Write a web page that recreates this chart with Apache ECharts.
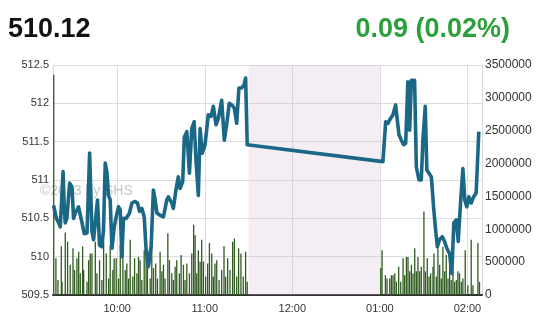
<!DOCTYPE html>
<html>
<head>
<meta charset="utf-8">
<script src="https://cdn.jsdelivr.net/npm/echarts@6/dist/echarts.min.js"></script>
<style>
html,body{margin:0;padding:0;background:#fff;}
#c{width:553px;height:319px;}
</style>
</head>
<body>
<div id="c"></div>
<script>
// Header values
var lastValue = "510.12";
var changeText = "0.09 (0.02%)";

// Axis ticks
var priceTicks = [509.5, 510, 510.5, 511, 511.5, 512, 512.5];
var volumeTicks = [0, 500000, 1000000, 1500000, 2000000, 2500000, 3000000, 3500000];
var hourTicks = [600, 660, 720, 780, 840]; // minutes after midnight
var lunchBreak = [690, 780];

// Price series: time (minutes after midnight) and index value
var priceTime = [556.4,558.3,559.9,561.0,562.2,562.9,563.7,564.4,565.5,567.4,569.0,570.1,571.3,573.5,575.9,577.4,579.3,581.1,582.7,583.8,585.0,586.5,587.9,589.5,590.6,591.8,593.0,594.0,595.2,596.4,598.0,599.3,600.9,602.1,603.2,604.3,606.2,608.4,610.1,612.3,613.9,615.3,616.9,618.5,619.8,621.4,623.3,624.8,626.0,627.2,629.4,631.7,632.8,634.0,635.1,637.4,638.5,640.4,641.9,643.1,644.9,646.0,647.7,649.5,651.1,652.7,654.0,655.6,656.8,658.3,660.2,662.4,664.3,665.9,667.7,669.3,671.6,673.4,675.0,676.8,678.5,680.2,681.9,683.4,685.3,686.9,688.0,689.1,
782.1,784.0,785.6,787.2,789.0,790.8,793.1,794.7,796.3,797.7,799.2,800.4,801.6,802.7,803.8,805.0,806.8,808.4,809.5,811.1,812.2,813.6,815.3,816.8,818.2,819.4,820.9,822.8,824.3,825.9,827.8,829.3,830.7,832.4,833.7,835.3,836.9,838.2,839.6,841.0,842.6,844.2,846.0,847.8];
var priceValue = [510.67,510.50,510.44,510.39,510.37,511.11,510.65,510.44,510.50,510.96,510.91,510.50,510.57,510.65,510.44,510.30,510.31,511.35,510.33,510.22,510.20,510.74,510.15,510.13,510.35,511.22,511.09,510.80,510.74,510.11,510.39,510.52,510.65,510.61,510.00,510.50,510.50,510.57,510.70,510.72,510.70,510.59,510.63,510.52,510.09,509.87,510.15,510.87,510.74,510.57,510.54,510.52,510.54,510.74,510.78,510.70,510.63,510.89,511.04,510.89,510.98,511.56,511.63,511.09,511.67,511.76,511.26,510.80,511.67,511.35,511.46,511.85,511.83,511.96,511.72,511.80,512.04,511.52,511.72,512.00,511.98,511.94,511.74,512.20,512.20,512.24,512.33,511.46,
511.24,511.76,511.74,511.80,511.85,511.98,511.59,511.52,511.46,511.48,512.28,511.65,512.30,512.30,512.30,511.17,511.00,511.00,511.52,511.96,511.13,511.09,511.04,510.65,510.35,510.13,510.22,510.26,510.20,510.11,510.04,509.78,510.44,510.48,510.20,510.70,511.15,510.74,510.65,510.78,510.70,510.78,510.83,511.63];

// Volume series: time (minutes after midnight) and shares
var volumeTime = [556.5,558.0,559.4,561.7,562.2,564.4,566.0,567.8,569.7,570.8,572.4,573.6,574.7,576.3,577.0,579.3,580.4,581.5,582.7,585.0,586.1,587.9,589.5,590.7,592.5,594.1,595.2,597.0,597.9,599.3,600.9,602.1,603.9,605.5,606.6,607.8,608.9,610.7,611.9,613.5,614.6,615.7,616.9,618.5,619.8,620.7,622.6,623.7,624.9,626.4,627.6,629.4,630.6,631.7,632.8,634.7,635.8,637.4,638.5,639.7,640.8,642.6,643.8,645.4,646.5,647.7,649.5,651.1,652.4,653.4,654.5,655.6,656.8,657.9,659.1,660.6,662.0,663.2,664.8,665.9,667.0,668.2,669.8,671.6,673.2,674.3,675.7,677.3,679.1,680.3,681.9,683.2,684.8,686.4,688.0,689.1,
780.6,781.5,783.8,784.9,786.8,787.9,789.0,790.2,791.3,792.9,794.3,795.9,797.0,798.2,799.3,800.4,801.6,802.7,803.9,805.0,806.1,807.3,808.4,810.2,811.2,812.5,813.7,814.8,816.4,817.1,818.7,819.8,821.0,822.1,823.2,824.4,825.5,826.7,827.8,828.9,830.1,831.2,832.4,833.5,834.6,835.8,836.9,838.5,840.3,842.6,843.8,847.2,848.3];
var volumeValue = [3350000,560000,230000,740000,200000,950000,810000,460000,710000,380000,560000,660000,330000,740000,380000,200000,530000,630000,630000,810000,330000,530000,230000,810000,630000,250000,760000,380000,560000,560000,250000,760000,710000,380000,480000,250000,840000,280000,560000,330000,580000,530000,230000,680000,580000,430000,250000,810000,410000,480000,250000,660000,360000,460000,250000,940000,530000,330000,230000,430000,530000,330000,610000,460000,230000,480000,330000,630000,1070000,910000,330000,680000,510000,840000,510000,280000,480000,790000,630000,280000,480000,530000,230000,380000,740000,280000,560000,380000,810000,860000,280000,710000,630000,280000,660000,200000,
410000,680000,300000,250000,250000,300000,300000,330000,200000,430000,200000,560000,300000,580000,580000,360000,460000,330000,710000,360000,580000,360000,430000,1270000,360000,560000,280000,330000,430000,630000,280000,710000,460000,250000,730000,360000,610000,250000,530000,230000,360000,200000,230000,360000,330000,200000,250000,680000,150000,840000,150000,790000,200000];

function pairs(a, b) { return a.map(function (v, i) { return [v, b[i]]; }); }
function hourLabel(v) {
  var h = Math.floor(v / 60), m = Math.round(v % 60);
  if (h > 12) h -= 12;
  return (h < 10 ? '0' + h : '' + h) + ':' + (m < 10 ? '0' + m : m);
}

var FONT = 'Liberation Sans, Arial, sans-serif';
var chart = echarts.init(document.getElementById('c'), null, {renderer: 'canvas'});
chart.setOption({
  animation: false,
  backgroundColor: '#ffffff',
  textStyle: {fontFamily: FONT},
  title: [
    {text: lastValue, left: 3, top: 11, textStyle: {fontSize: 27, fontWeight: 'bold', color: '#111111', fontFamily: FONT}},
    {text: changeText, right: 38, top: 11, textStyle: {fontSize: 27, fontWeight: 'bold', color: '#2c9f3c', fontFamily: FONT}}
  ],
  graphic: [{
    type: 'text', left: 40, top: 184, z: 1,
    style: {text: '\u00a92013 by SHS', fontSize: 14, fontFamily: FONT, fill: 'rgba(150,150,150,0.55)'}
  }],
  grid: {left: 53, right: 71, top: 65, bottom: 24, containLabel: false},
  xAxis: {
    type: 'value', min: 556, max: 850,
    axisLine: {show: true, onZero: false, lineStyle: {color: '#333333', width: 2}},
    axisTick: {show: false, customValues: hourTicks},
    axisLabel: {customValues: hourTicks, formatter: hourLabel, color: '#333333', fontSize: 11, margin: 8, fontFamily: FONT},
    splitLine: {show: true, lineStyle: {color: '#dddddd', width: 1}}
  },
  yAxis: [
    {
      type: 'value', min: priceTicks[0], max: priceTicks[priceTicks.length - 1], interval: 0.5,
      axisLine: {show: true, lineStyle: {color: '#d8d8d8'}},
      axisTick: {show: false},
      axisLabel: {color: '#333333', fontSize: 11, margin: 4, fontFamily: FONT},
      splitLine: {show: true, lineStyle: {color: '#dddddd', width: 1}}
    },
    {
      type: 'value', min: volumeTicks[0], max: volumeTicks[volumeTicks.length - 1], interval: 500000,
      position: 'right',
      axisLine: {show: true, lineStyle: {color: '#d8d8d8'}},
      axisTick: {show: false},
      axisLabel: {color: '#333333', fontSize: 12, margin: 3, fontFamily: FONT, formatter: function (v) { return String(v); }},
      splitLine: {show: false}
    }
  ],
  series: [
    {
      type: 'bar', yAxisIndex: 1, barWidth: 1.3, z: 2,
      itemStyle: {color: '#2f5b1f'},
      data: pairs(volumeTime, volumeValue),
      markArea: {
        silent: true,
        itemStyle: {color: 'rgba(215,185,210,0.25)'},
        data: [[{xAxis: lunchBreak[0]}, {xAxis: lunchBreak[1]}]]
      }
    },
    {
      type: 'line', yAxisIndex: 0, z: 3,
      showSymbol: false, symbol: 'none',
      lineStyle: {color: '#1b6786', width: 3.6, join: 'round'},
      data: pairs(priceTime, priceValue)
    }
  ]
});
</script>
</body>
</html>
